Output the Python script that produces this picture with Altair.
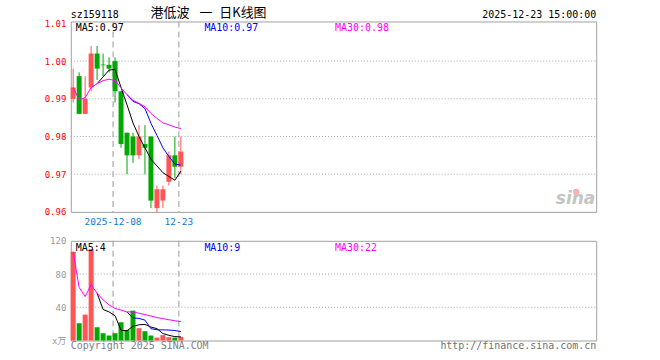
import altair as alt
import pandas as pd

# ---------------- data ----------------
dates = ["2025-11-27", "2025-11-28", "2025-12-01", "2025-12-02", "2025-12-03",
         "2025-12-04", "2025-12-05", "2025-12-08", "2025-12-09", "2025-12-10",
         "2025-12-11", "2025-12-12", "2025-12-15", "2025-12-16", "2025-12-17",
         "2025-12-18", "2025-12-19", "2025-12-22", "2025-12-23"]
opens = [0.990, 0.996, 0.986, 0.993, 1.002, 0.999, 0.999, 1.000, 0.992, 0.981,
         0.980, 0.975, 0.978, 0.980, 0.961, 0.963, 0.968, 0.975, 0.972]
highs = [0.998, 0.997, 0.996, 1.004, 1.004, 1.002, 1.001, 1.001, 0.992, 0.981,
         0.981, 0.983, 0.983, 0.980, 0.967, 0.967, 0.976, 0.980, 0.980]
lows = [0.989, 0.986, 0.986, 0.992, 0.995, 0.996, 0.997, 0.989, 0.977, 0.970,
        0.973, 0.974, 0.970, 0.961, 0.960, 0.961, 0.967, 0.969, 0.970]
closes = [0.993, 0.986, 0.990, 1.002, 0.998, 0.999, 0.998, 0.992, 0.978, 0.975,
          0.975, 0.980, 0.977, 0.963, 0.966, 0.966, 0.975, 0.972, 0.976]
volumes = [106.8, 20.8, 31.2, 110.0, 16.0, 8.8, 6.0, 8.8, 22.0, 12.8,
           36.0, 14.8, 11.2, 6.0, 3.5, 6.5, 4.0, 3.5, 4.5]

ma5 = [None, None, None, None, 0.9940, 0.9958, 0.9976, 0.9978, 0.9930, 0.9884,
       0.9836, 0.9800, 0.9770, 0.9740, 0.9722, 0.9704, 0.9694, 0.9684, 0.9708]
ma10 = [None] * 9 + [0.9911, 0.9893, 0.9887, 0.9874, 0.9835, 0.9803, 0.9770,
                     0.9747, 0.9727, 0.9724]
ma30 = [0.9930, 0.9897, 0.9903, 0.9930, 0.9940, 0.9948, 0.9952, 0.9948, 0.9929,
        0.9911, 0.9896, 0.9888, 0.9879, 0.9861, 0.9848, 0.9836, 0.9831, 0.9825, 0.9821]

vol_ma5 = [None, None, None, None, 57.0, 37.4, 34.4, 29.9, 12.3, 11.7,
           17.1, 18.9, 19.4, 16.2, 14.3, 8.4, 6.2, 4.7, 4.4]
vol_ma10 = [None] * 9 + [34.3, 27.2, 26.6, 24.6, 14.2, 13.0, 12.8, 12.6, 12.0, 10.8]
vol_ma30 = [106.8, 63.8, 52.9, 67.2, 57.0, 48.9, 42.8, 38.6, 36.7, 34.3,
            34.5, 32.8, 31.2, 29.4, 27.6, 26.3, 25.0, 23.8, 22.8]

price_ticks = [0.96, 0.97, 0.98, 0.99, 1.00, 1.01]
price_grid = [0.97, 0.98, 0.99, 1.00]
vol_ticks = [0, 40, 80, 120]
vol_grid = [40, 80]
date_marks = ["2025-12-08", "2025-12-23"]
date_labels = ["2025-12-08", "12-23"]

# ---------------- tables ----------------
candles = pd.DataFrame({"i": list(range(len(dates))), "date": dates, "open": opens,
                        "high": highs, "low": lows, "close": closes, "vol": volumes})
marks_df = pd.DataFrame({"i": [dates.index(d) for d in date_marks], "lab": date_labels})


def long_ma(series):
    rows = []
    for name, arr in series:
        for i, v in enumerate(arr):
            if v is not None:
                rows.append({"i": i, "s": name, "v": v})
    return pd.DataFrame(rows)


price_ma = long_ma([("MA5", ma5), ("MA10", ma10), ("MA30", ma30)])
vol_ma = long_ma([("MA5", vol_ma5), ("MA10", vol_ma10), ("MA30", vol_ma30)])
ONE = pd.DataFrame({"k": [0]})

# ---------------- styles ----------------
RED = "#ff5555"
GREEN = "#00a800"
MONO = "DejaVu Sans Mono"
CJK = "Noto Sans CJK SC"
W, H1, H2 = 527, 191, 100

xs = alt.Scale(domain=[-0.4, 87.43], nice=False, zero=False, padding=0)
X = alt.X("i:Q", scale=xs, axis=None)
updown = alt.condition("datum.close > datum.open", alt.value(RED), alt.value(GREEN))
ma_color = alt.Color("s:N", scale=alt.Scale(domain=["MA5", "MA10", "MA30"],
                                            range=["#000000", "#0000ff", "#ff00ff"]),
                     legend=None)

py_scale = alt.Scale(domain=[0.96, 1.0105], nice=False, zero=False, padding=0)
py_axis = alt.Axis(values=price_ticks, format=".2f", labelColor="#ff0000", labelFont=MONO,
                   labelFontSize=9, ticks=False, tickSize=0, domain=False, grid=False,
                   labelPadding=5, title=None, labelBaseline="middle", labelOverlap=False)
vy_scale = alt.Scale(domain=[0, 120], nice=False, padding=0)
vy_axis = alt.Axis(values=vol_ticks, labelExpr="datum.value == 0 ? 'x万' : datum.label",
                   labelColor="#999999", labelFont=MONO + ", " + CJK, labelFontSize=9,
                   ticks=False, tickSize=0, domain=False, grid=False, labelPadding=5,
                   title=None, labelBaseline="middle", labelOverlap=False)


def label(txt, x, y, color="#000000", size=10, align="left", font=MONO, **kw):
    return alt.Chart(ONE).mark_text(text=txt, align=align, baseline="alphabetic",
                                    fontSize=size, font=font, color=color, **kw
                                    ).encode(x=alt.value(x), y=alt.value(y))


# ---------------- price panel ----------------
frame = alt.Chart(ONE).mark_rect(opacity=0).encode(
    x=alt.value(-70), x2=alt.value(590), y=alt.value(-20), y2=alt.value(340))

p_grid = alt.Chart(pd.DataFrame({"g": price_grid})).mark_rule(
    color="#aaaaaa", strokeDash=[1, 2], strokeWidth=1).encode(
    y=alt.Y("g:Q", scale=py_scale, axis=py_axis), x=alt.value(0), x2=alt.value(W + 1))

p_dash = alt.Chart(marks_df).mark_rule(color="#aaaaaa", strokeDash=[6, 4], strokeWidth=1.2,
                                       xOffset=-2).encode(
    x=X, y=alt.value(0), y2=alt.value(H1))

wicks = alt.Chart(candles).mark_rule(strokeWidth=1).encode(
    x=X, y=alt.Y("low:Q", scale=py_scale, axis=py_axis), y2="high:Q", color=updown)

bodies = alt.Chart(candles).mark_bar(size=5).encode(
    x=X, y=alt.Y("open:Q", scale=py_scale, axis=py_axis), y2="close:Q", color=updown)

doji = alt.Chart(candles).transform_filter("datum.open == datum.close").mark_tick(
    orient="horizontal", size=5, thickness=1).encode(
    x=X, y=alt.Y("close:Q", scale=py_scale, axis=py_axis), color=alt.value(GREEN))

p_lines = alt.Chart(price_ma).mark_line(strokeWidth=1).encode(
    x=X, y=alt.Y("v:Q", scale=py_scale, axis=py_axis), color=ma_color, detail="s:N")

date_text = alt.Chart(marks_df).mark_text(font=MONO, fontSize=9.5, color="#0b7bd6",
                                          align="center", baseline="alphabetic",
                                          xOffset=-2).encode(
    x=X, y=alt.value(H1 + 13), text="lab:N")

logo_dot = alt.Chart(ONE).mark_point(filled=True, size=40, color="#f4b4b4", opacity=1).encode(
    x=alt.value(507), y=alt.value(171))

price = alt.layer(
    frame, p_grid, p_dash, wicks, bodies, doji, p_lines, date_text,
    label("sz159118", 0, -3),
    label("港低波", 80, -4, size=13, font=CJK),
    label("一", 129, -4, size=13, font=CJK),
    label("日K线图", 149, -4, size=13, font=CJK),
    label("2025-12-23 15:00:00", W, -3, align="right"),
    label("MA5:0.97", 5, 9.5),
    label("MA10:0.97", 134, 9.5, color="#0000ff"),
    label("MA30:0.98", 265, 9.5, color="#ff00ff"),
    label("sina", W - 1, 183, color="#c4c4c4", size=17, align="right", font="DejaVu Sans",
          fontStyle="italic", fontWeight="bold"),
    logo_dot,
).properties(width=W, height=H1)

# ---------------- volume panel ----------------
v_grid = alt.Chart(pd.DataFrame({"g": vol_grid})).mark_rule(
    color="#aaaaaa", strokeDash=[1, 2], strokeWidth=1).encode(
    y=alt.Y("g:Q", scale=vy_scale, axis=vy_axis), x=alt.value(0), x2=alt.value(W + 1))

v_dash = alt.Chart(marks_df).mark_rule(color="#aaaaaa", strokeDash=[6, 4], strokeWidth=1.2,
                                       xOffset=-2).encode(
    x=X, y=alt.value(0), y2=alt.value(H2))

v_bars = alt.Chart(candles).mark_bar(size=5).encode(
    x=X, y=alt.Y("vol:Q", scale=vy_scale, axis=vy_axis), color=updown)

v_lines = alt.Chart(vol_ma).mark_line(strokeWidth=1).encode(
    x=X, y=alt.Y("v:Q", scale=vy_scale, axis=vy_axis), color=ma_color, detail="s:N")

volume = alt.layer(
    v_grid, v_dash, v_bars, v_lines,
    label("MA5:4", 5, 10),
    label("MA10:9", 134, 10, color="#0000ff"),
    label("MA30:22", 265, 10, color="#ff00ff"),
    label("Copyright 2025 SINA.COM", 0, 109, color="#808080"),
    label("http://finance.sina.com.cn", W, 108.5, color="#707070", align="right"),
).properties(width=W, height=H2)

chart = alt.vconcat(price, volume, spacing=29, bounds="flush").properties(
    padding=0, background="#ffffff"
).configure_view(stroke="#a0a0a0", strokeWidth=1)

chart.save("out.html", embed_options={"renderer": "svg", "actions": False})
